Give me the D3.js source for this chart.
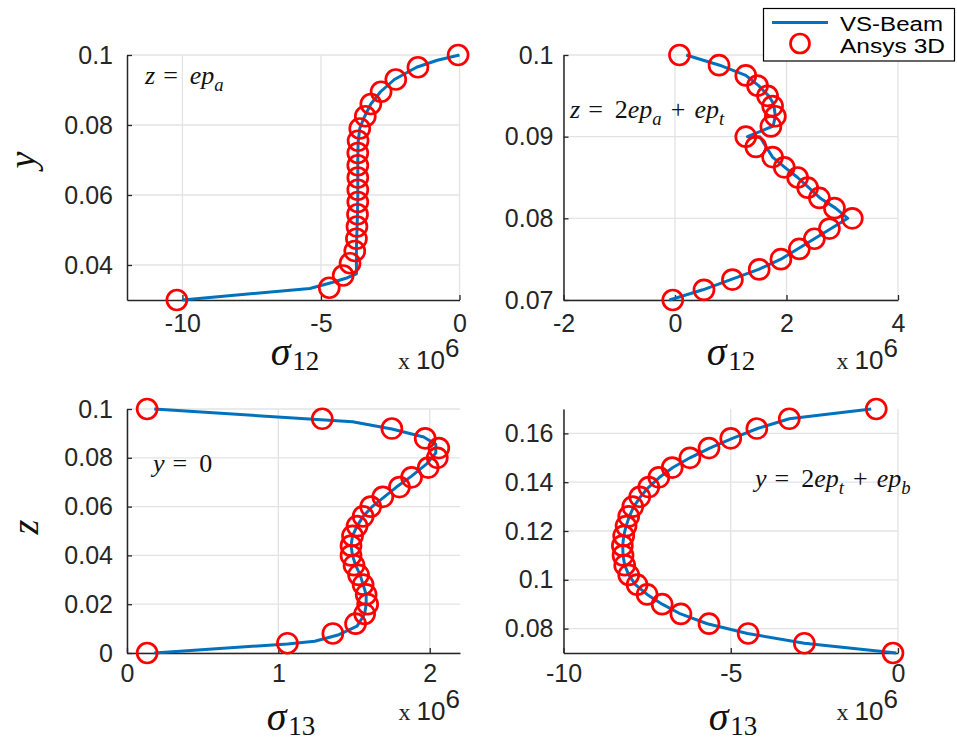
<!DOCTYPE html>
<html>
<head>
<meta charset="utf-8">
<script src="https://cdn.jsdelivr.net/npm/d3@7"></script>
<style>
  body { margin: 0; background: #fff; }
</style>
</head>
<body>
<svg id="chart" width="957" height="744"></svg>
<script>
// ---- Panel A: sigma_12 along y at z = ep_a (values x 1e6) ----
const aMarkY = [0.03, 0.0335, 0.037, 0.0405, 0.044, 0.0475, 0.051, 0.0545, 0.058, 0.0615, 0.065,
                0.0685, 0.072, 0.0755, 0.079, 0.0825, 0.086, 0.0895, 0.093, 0.0965, 0.1];
const aMarkX = [-10.2, -4.7, -4.2, -3.95, -3.78, -3.72, -3.7, -3.68, -3.67, -3.67, -3.67,
                -3.67, -3.67, -3.66, -3.6, -3.4, -3.2, -2.83, -2.3, -1.5, -0.05];
const aLineY = [0.03, 0.0333, 0.035, 0.0362, 0.0375, 0.041, 0.045, 0.05, 0.055, 0.06, 0.065,
                0.07, 0.075, 0.079, 0.082, 0.086, 0.0895, 0.093, 0.0965, 0.0985, 0.1];
const aLineX = [-10, -5.4, -4.6, -4.1, -3.72, -3.72, -3.72, -3.7, -3.68, -3.67, -3.67,
                -3.67, -3.66, -3.6, -3.45, -3.2, -2.85, -2.35, -1.55, -0.8, 0];
const aTicksX = [-10, -5, 0];
const aTicksY = [0.04, 0.06, 0.08, 0.1];

// ---- Panel B: sigma_12 along y at z = 2ep_a + ep_t ----
const bMarkY = [0.1, 0.09875, 0.0975, 0.09625, 0.095, 0.09375, 0.0925, 0.09125, 0.09,
                0.08875, 0.0875, 0.08625, 0.085, 0.08375, 0.0825, 0.08125, 0.08,
                0.07875, 0.0775, 0.07625, 0.075, 0.07375, 0.0725, 0.07125, 0.07];
const bMarkX = [0.08, 0.79, 1.27, 1.48, 1.66, 1.75, 1.8, 1.72, 1.27,
                1.45, 1.75, 1.96, 2.2, 2.38, 2.59, 2.86, 3.18,
                2.77, 2.5, 2.23, 1.9, 1.51, 1.03, 0.52, -0.04];
const bLineY = [0.1, 0.09875, 0.0975, 0.09625, 0.095, 0.094, 0.0925, 0.0913, 0.09, 0.09,
                0.0875, 0.08625, 0.085, 0.08375, 0.0825, 0.08125, 0.08,
                0.07875, 0.0775, 0.07625, 0.075, 0.07375, 0.0725, 0.07125, 0.07];
const bLineX = [0.2, 0.8, 1.27, 1.5, 1.68, 1.77, 1.8, 1.76, 1.3, 1.52,
                1.75, 1.97, 2.2, 2.4, 2.6, 2.88, 3.1,
                2.8, 2.5, 2.2, 1.9, 1.5, 1.0, 0.5, -0.1];
const bTicksX = [-2, 0, 2, 4];
const bTicksY = [0.07, 0.08, 0.09, 0.1];

// ---- Panel C: sigma_13 along z at y = 0 ----
const cMarkY = [0, 0.004, 0.008, 0.012, 0.016, 0.02, 0.024, 0.028, 0.032, 0.036, 0.04, 0.044, 0.048,
                0.052, 0.056, 0.06, 0.064, 0.068, 0.072, 0.076, 0.08, 0.084, 0.088, 0.092, 0.096, 0.1];
const cMarkX = [0.133, 1.06, 1.36, 1.51, 1.57, 1.59, 1.58, 1.56, 1.53, 1.5, 1.48, 1.48, 1.49,
                1.52, 1.56, 1.61, 1.69, 1.8, 1.88, 1.99, 2.05, 2.06, 1.97, 1.75, 1.29, 0.133];
const cLineY = [0, 0.0037, 0.0048, 0.0075, 0.011, 0.016, 0.02, 0.024, 0.028, 0.032, 0.036, 0.04, 0.044,
                0.048, 0.052, 0.056, 0.06, 0.064, 0.068, 0.0725, 0.0775, 0.082, 0.0855, 0.0885, 0.0918, 0.0948, 0.1];
const cLineX = [0.18, 1.06, 1.24, 1.4, 1.52, 1.57, 1.58, 1.58, 1.56, 1.54, 1.51, 1.49, 1.48,
                1.49, 1.52, 1.56, 1.62, 1.7, 1.78, 1.88, 1.98, 2.04, 2.04, 1.96, 1.75, 1.49, 0.18];
const cTicksX = [0, 1, 2];
const cTicksY = [0, 0.02, 0.04, 0.06, 0.08, 0.1];

// ---- Panel D: sigma_13 along z at y = 2ep_t + ep_b ----
const dMarkY = [0.07, 0.074, 0.078, 0.082, 0.086, 0.09, 0.094, 0.098, 0.102, 0.106, 0.11, 0.114, 0.118,
                0.122, 0.126, 0.13, 0.134, 0.138, 0.142, 0.146, 0.15, 0.154, 0.158, 0.162, 0.166, 0.17];
const dMarkX = [-0.15, -2.8, -4.48, -5.65, -6.49, -7.05, -7.5, -7.8, -8.05, -8.17, -8.22, -8.24, -8.2,
                -8.13, -8.05, -7.93, -7.72, -7.45, -7.15, -6.75, -6.22, -5.65, -5.0, -4.22, -3.25, -0.65];
const dLineY = [0.07, 0.074, 0.078, 0.082, 0.086, 0.09, 0.094, 0.098, 0.102, 0.106, 0.11, 0.114, 0.118,
                0.122, 0.126, 0.13, 0.134, 0.138, 0.142, 0.146, 0.15, 0.154, 0.158, 0.162, 0.166, 0.17];
const dLineX = [-0.05, -2.8, -4.5, -5.7, -6.5, -7.05, -7.5, -7.85, -8.05, -8.17, -8.22, -8.23, -8.2,
                -8.13, -8.03, -7.9, -7.7, -7.45, -7.13, -6.73, -6.22, -5.63, -4.95, -4.2, -3.25, -0.8];
const dTicksX = [-10, -5, 0];
const dTicksY = [0.08, 0.1, 0.12, 0.14, 0.16];

const seriesNames = ["VS-Beam", "Ansys 3D"];

// ---- styling ----
const LINE_COLOR = "#0072BD";
const MARK_COLOR = "#FF0000";
const AXIS_COLOR = "#262626";
const GRID_COLOR = "#e3e3e3";
const SANS = "Arial, 'Liberation Sans', Helvetica, sans-serif";
const SERIF = "'Liberation Serif', 'Times New Roman', serif";

const svg = d3.select("#chart");

const zip = (xs, ys) => xs.map((v, i) => [v, ys[i]]);

const panels = [
  { box: [127, 459.5, 55, 300], xDom: [-12, 0], yDom: [0.03, 0.1], xT: aTicksX, yT: aTicksY,
    mark: zip(aMarkX, aMarkY), line: zip(aLineX, aLineY), xPad: 14, yPad: 14,
    label: "12", labelX: 295, labelBase: 365, expBase: 369,
    note: [{t: "z", i: 1}, {t: "=", dx: 8}, {t: "ep", i: 1, dx: 12}, {t: "a", i: 1, sub: 1}],
    noteX: 145, noteY: 84 },
  { box: [563.5, 898, 55, 300], xDom: [-2, 4], yDom: [0.07, 0.1], xT: bTicksX, yT: bTicksY,
    mark: zip(bMarkX, bMarkY), line: zip(bLineX, bLineY), xPad: 14, yPad: 10,
    label: "12", labelX: 731, labelBase: 365, expBase: 369,
    note: [{t: "z", i: 1}, {t: "=", dx: 8}, {t: "2", dx: 12}, {t: "ep", i: 1}, {t: "a", i: 1, sub: 1},
           {t: "+", dx: 9}, {t: "ep", i: 1, dx: 9}, {t: "t", i: 1, sub: 1}],
    noteX: 570, noteY: 118 },
  { box: [127, 460, 409, 653], xDom: [0, 2.2], yDom: [0, 0.1], xT: cTicksX, yT: cTicksY,
    mark: zip(cMarkX, cMarkY), line: zip(cLineX, cLineY), xPad: 11, yPad: 14,
    label: "13", labelX: 291, labelBase: 730, expBase: 720,
    note: [{t: "y", i: 1}, {t: "=", dx: 8}, {t: "0", dx: 12}],
    noteX: 153, noteY: 472 },
  { box: [563.5, 898, 409, 653], xDom: [-10, 0], yDom: [0.07, 0.17], xT: dTicksX, yT: dTicksY,
    mark: zip(dMarkX, dMarkY), line: zip(dLineX, dLineY), xPad: 11, yPad: 10,
    label: "13", labelX: 733, labelBase: 730, expBase: 720,
    note: [{t: "y", i: 1}, {t: "=", dx: 8}, {t: "2", dx: 12}, {t: "ep", i: 1}, {t: "t", i: 1, sub: 1},
           {t: "+", dx: 9}, {t: "ep", i: 1, dx: 9}, {t: "b", i: 1, sub: 1}],
    noteX: 755, noteY: 487 }
];

function mathText(parent, x, y, pieces, size) {
  const t = parent.append("text")
    .attr("x", x).attr("y", y)
    .attr("font-family", SERIF).attr("font-size", size).attr("fill", "#111");
  let shifted = 0;
  pieces.forEach(p => {
    const s = t.append("tspan").text(p.t);
    if (p.i) s.attr("font-style", "italic");
    if (p.dx) s.attr("dx", p.dx);
    const want = p.sub ? size * 0.25 : 0;
    if (want !== shifted) { s.attr("dy", want - shifted); shifted = want; }
    if (p.sub) s.attr("font-size", size * 0.72);
  });
  return t;
}

panels.forEach(P => {
  const [x0, x1, y0, y1] = P.box;
  const x = d3.scaleLinear().domain(P.xDom).range([x0, x1]);
  const y = d3.scaleLinear().domain(P.yDom).range([y1, y0]);
  const g = svg.append("g");

  // grid lines at the tick positions
  g.append("g").selectAll("line").data(P.xT).join("line")
    .attr("x1", d => x(d)).attr("x2", d => x(d)).attr("y1", y0).attr("y2", y1)
    .attr("stroke", GRID_COLOR).attr("stroke-width", 1.3);
  g.append("g").selectAll("line").data(P.yT).join("line")
    .attr("x1", x0).attr("x2", x1).attr("y1", d => y(d)).attr("y2", d => y(d))
    .attr("stroke", GRID_COLOR).attr("stroke-width", 1.3);

  // axes with inward ticks
  const fmt = d => String(d);
  const ax = g.append("g").attr("transform", `translate(0,${y1})`)
    .call(d3.axisBottom(x).tickValues(P.xT).tickFormat(fmt).tickSizeInner(-5).tickSizeOuter(0).tickPadding(P.xPad));
  const ay = g.append("g").attr("transform", `translate(${x0},0)`)
    .call(d3.axisLeft(y).tickValues(P.yT).tickFormat(fmt).tickSizeInner(-5).tickSizeOuter(0).tickPadding(P.yPad));
  [ax, ay].forEach(a => {
    a.select(".domain").attr("stroke", AXIS_COLOR).attr("stroke-width", 1.5);
    a.selectAll(".tick line").attr("stroke", AXIS_COLOR).attr("stroke-width", 1.3);
    a.selectAll(".tick text").attr("font-family", SANS).attr("font-size", 25).attr("fill", AXIS_COLOR);
  });

  // VS-Beam curve
  g.append("path").datum(P.line)
    .attr("d", d3.line().x(d => x(d[0])).y(d => y(d[1])))
    .attr("fill", "none").attr("stroke", LINE_COLOR).attr("stroke-width", 3)
    .attr("stroke-linejoin", "round");

  // Ansys 3D points
  g.append("g").selectAll("circle").data(P.mark).join("circle")
    .attr("cx", d => x(d[0])).attr("cy", d => y(d[1])).attr("r", 10)
    .attr("fill", "none").attr("stroke", MARK_COLOR).attr("stroke-width", 2.7);

  // x label: sigma with subscript
  const lab = g.append("text").attr("x", P.labelX).attr("y", P.labelBase)
    .attr("text-anchor", "middle").attr("font-family", SERIF).attr("fill", "#111");
  lab.append("tspan").attr("font-size", 40).attr("font-style", "italic").text("σ");
  lab.append("tspan").attr("font-size", 27).attr("dy", 5).attr("dx", 2).text(P.label);

  // exponent factor
  const ex = g.append("text").attr("x", x1).attr("y", P.expBase)
    .attr("text-anchor", "end").attr("fill", "#222");
  ex.append("tspan").attr("font-family", SERIF).attr("font-size", 24).text("x ");
  ex.append("tspan").attr("font-family", SANS).attr("font-size", 26).text("10");
  ex.append("tspan").attr("font-family", SANS).attr("font-size", 26).attr("dy", -12).text("6");

  // in-plot annotation
  mathText(g, P.noteX, P.noteY, P.note, 26);
});

// y-axis labels
svg.append("text").attr("transform", "translate(35,160) rotate(-90)")
  .attr("text-anchor", "middle").attr("font-family", SERIF).attr("font-style", "italic")
  .attr("font-size", 38).attr("fill", "#111").text("y");
svg.append("text").attr("transform", "translate(38,527) rotate(-90)")
  .attr("text-anchor", "middle").attr("font-family", SERIF).attr("font-style", "italic")
  .attr("font-size", 38).attr("fill", "#111").text("z");

// legend
const lg = svg.append("g");
lg.append("rect").attr("x", 763.5).attr("y", 8.5).attr("width", 191).attr("height", 52.5)
  .attr("fill", "#fff").attr("stroke", "#000").attr("stroke-width", 1.2);
lg.append("line").attr("x1", 772).attr("x2", 828).attr("y1", 22.5).attr("y2", 22.5)
  .attr("stroke", LINE_COLOR).attr("stroke-width", 3);
lg.append("circle").attr("cx", 800).attr("cy", 43.5).attr("r", 9.5)
  .attr("fill", "none").attr("stroke", MARK_COLOR).attr("stroke-width", 2.7);
lg.selectAll("text").data(seriesNames).join("text")
  .attr("x", 840).attr("y", (d, i) => 30.5 + i * 22.5)
  .attr("font-family", SANS).attr("font-size", 20).attr("fill", "#000")
  .attr("textLength", (d, i) => [103, 105][i]).attr("lengthAdjust", "spacingAndGlyphs")
  .text(d => d);
</script>
</body>
</html>
